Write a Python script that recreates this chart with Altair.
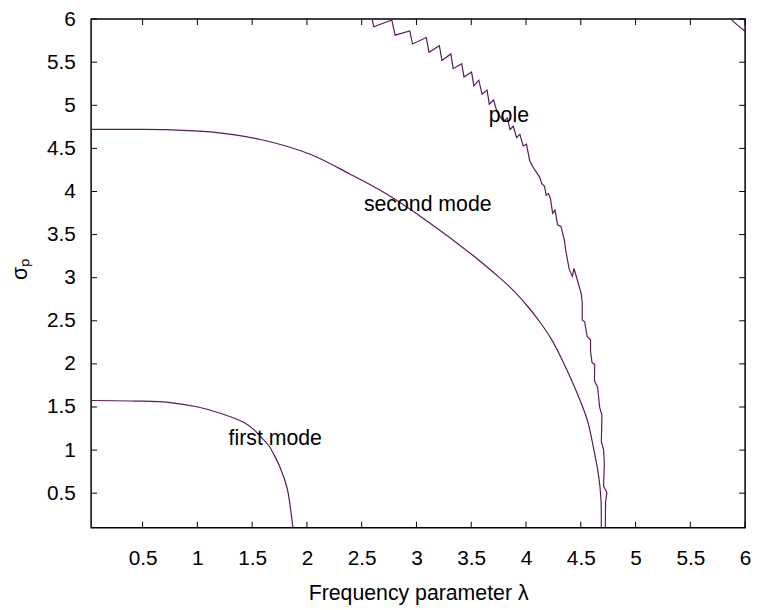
import altair as alt
import pandas as pd

# ---- data ----
first_x = [0.03, 0.434, 0.735, 1.006, 1.216, 1.427, 1.518, 1.578, 1.653, 1.698, 1.758, 1.819, 1.848, 1.872]
first_y = [1.575, 1.569, 1.554, 1.50, 1.425, 1.32, 1.235, 1.155, 1.05, 0.95, 0.79, 0.56, 0.34, 0.1]

second_x = [0.03, 0.45, 0.705, 1.123, 1.577, 2.029, 2.39, 2.72, 3.083, 3.505, 3.72, 3.87,
            4.02, 4.13, 4.23, 4.35, 4.47, 4.56, 4.62, 4.663, 4.684, 4.687]
second_y = [4.72, 4.72, 4.717, 4.691, 4.603, 4.432, 4.204, 3.976, 3.67, 3.27, 3.042, 2.87,
            2.66, 2.48, 2.29, 1.994, 1.65, 1.346, 1.0, 0.70, 0.43, 0.1]

pole_x = [2.595, 2.610, 2.775, 2.805, 2.939, 2.964, 3.090, 3.114, 3.209, 3.233, 3.314, 3.335,
          3.413, 3.434, 3.503, 3.524, 3.569, 3.599, 3.644, 3.665, 3.704, 3.734, 3.794, 3.830,
          3.854, 3.884, 3.914, 3.944, 3.974, 4.004, 4.034, 4.064, 4.094, 4.124, 4.144, 4.169,
          4.184, 4.205, 4.223, 4.243, 4.265, 4.288, 4.319, 4.349, 4.364, 4.394, 4.423, 4.438,
          4.483, 4.504, 4.513, 4.513, 4.535, 4.558, 4.589, 4.589, 4.603, 4.627, 4.625, 4.654,
          4.663, 4.672, 4.693, 4.688, 4.708, 4.715, 4.708, 4.738, 4.726, 4.724]
pole_y = [6.0, 5.912, 5.989, 5.814, 5.863, 5.711, 5.786, 5.615, 5.691, 5.520, 5.596, 5.425,
          5.482, 5.329, 5.386, 5.226, 5.291, 5.128, 5.177, 5.013, 5.062, 4.929, 4.814, 4.853,
          4.719, 4.757, 4.624, 4.662, 4.528, 4.548, 4.357, 4.281, 4.224, 4.167, 4.090, 4.059,
          3.957, 3.976, 3.919, 3.747, 3.785, 3.613, 3.595, 3.442, 3.309, 3.099, 3.015, 3.107,
          2.909, 2.813, 2.718, 2.509, 2.489, 2.318, 2.280, 2.146, 2.013, 1.994, 1.803, 1.727,
          1.613, 1.498, 1.403, 1.098, 1.003, 0.851, 0.583, 0.507, 0.393, 0.1]

pole2_x = [5.87, 5.93, 6.0]
pole2_y = [6.0, 5.93, 5.86]

label_text = ["first mode", "second mode", "pole"]
label_x = [1.285, 2.52, 3.66]
label_y = [1.063, 3.778, 4.812]

ticks = [0.5, 1, 1.5, 2, 2.5, 3, 3.5, 4, 4.5, 5, 5.5, 6]

# ---- build tables ----
def table(series_list):
    rows = []
    for name, xs, ys in series_list:
        for i, (a, b) in enumerate(zip(xs, ys)):
            rows.append({"series": name, "x": a, "y": b, "i": i})
    return pd.DataFrame(rows)

modes_df = table([("first", first_x, first_y), ("second", second_x, second_y)])
pole_df = table([("pole", pole_x, pole_y), ("pole2", pole2_x, pole2_y)])
labels = pd.DataFrame({"text": label_text, "x": label_x, "y": label_y})
xt_df = pd.DataFrame({"x": ticks})
yt_df = pd.DataFrame({"y": ticks})

W, H = 661, 514
FONT = "Liberation Sans"
COLOR = "#571b57"
FS = 21
FS_TEXT = 21.5

xscale = alt.Scale(domain=[0.03, 6], nice=False, zero=False)
yscale = alt.Scale(domain=[0.1, 6], nice=False, zero=False)

xaxis = alt.Axis(values=ticks, format="~g", title="Frequency parameter λ",
                 grid=False, ticks=False, tickSize=0, domain=False,
                 labelFont=FONT, labelFontSize=FS, labelColor="black",
                 labelPadding=20, titleFont=FONT, titleFontSize=FS_TEXT,
                 titleFontWeight="normal", titleColor="black", titlePadding=15,
                 labelFlush=False, labelOverlap=False)
yaxis = alt.Axis(values=ticks, format="~g", title="σₚ",
                 grid=False, ticks=False, tickSize=0, domain=False,
                 labelFont=FONT, labelFontSize=FS, labelColor="black",
                 labelPadding=16, titleFont=FONT, titleFontSize=FS_TEXT,
                 titleFontWeight="normal", titleColor="black",
                 titleX=-71, titleY=252, titleAngle=270,
                 titleAlign="center", titleBaseline="middle",
                 labelFlush=False, labelOverlap=False)

X = alt.X("x:Q", scale=xscale, axis=xaxis)
Y = alt.Y("y:Q", scale=yscale, axis=yaxis)

modes = alt.Chart(modes_df).mark_line(color=COLOR, strokeWidth=1.2, clip=True,
                                      interpolate="catmull-rom").encode(
    x=X, y=Y, detail="series:N", order="i:Q")

pole = alt.Chart(pole_df).mark_line(color=COLOR, strokeWidth=1.2, clip=True,
                                    interpolate="linear").encode(
    x=X, y=Y, detail="series:N", order="i:Q")

text = alt.Chart(labels).mark_text(font=FONT, fontSize=FS_TEXT, color="black",
                                   align="left", baseline="alphabetic").encode(
    x=X, y=Y, text="text:N")

TL = 6
tick_style = dict(color="black", strokeWidth=1)
xt_bottom = alt.Chart(xt_df).mark_rule(**tick_style).encode(
    x=X, y=alt.value(H), y2=alt.value(H - TL))
xt_top = alt.Chart(xt_df).mark_rule(**tick_style).encode(
    x=X, y=alt.value(0), y2=alt.value(TL))
yt_left = alt.Chart(yt_df).mark_rule(**tick_style).encode(
    y=Y, x=alt.value(0), x2=alt.value(TL))
yt_right = alt.Chart(yt_df).mark_rule(**tick_style).encode(
    y=Y, x=alt.value(W - TL), x2=alt.value(W))

chart = alt.layer(modes, pole, text, xt_bottom, xt_top, yt_left, yt_right).properties(
    width=W, height=H,
    autosize=alt.AutoSizeParams(type="none"),
    padding={"left": 84, "top": 8, "right": 10, "bottom": 80},
    background="white",
).configure_view(stroke="black", strokeWidth=1.5)

chart.save("out.html", embed_options={"renderer": "svg", "actions": False})
